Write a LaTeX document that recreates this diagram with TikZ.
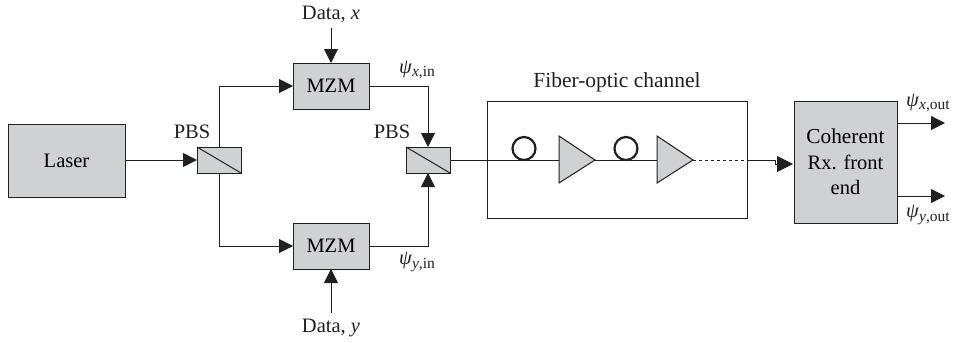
\documentclass[tikz,border=0pt]{standalone}
\usepackage{fontspec}
\setmainfont{Liberation Serif}
\usetikzlibrary{arrows.meta,calc}
\definecolor{boxgray}{HTML}{D0D1D3}
\definecolor{ink}{HTML}{231F20}
\newcommand{\psisub}[2]{\textit{ψ}\raisebox{-3.5pt}{\fontsize{15.5}{15.5}\selectfont\textit{#1},#2}}
\tikzset{
  graybox/.style={draw=ink,line width=1pt,fill=boxgray,inner sep=0pt,outer sep=0pt,align=center},
  lbl/.style={inner sep=0pt,outer sep=0pt,text=ink,align=center},
  conn/.style={draw=ink,line width=1pt,-{Triangle[length=14pt,width=14pt]}},
  bigconn/.style={draw=ink,line width=1pt,-{Triangle[length=16pt,width=16pt]}},
  plainconn/.style={draw=ink,line width=1pt},
  amp/.style={draw=ink,line width=1pt,fill=boxgray},
  coil/.style={draw=ink,line width=2.2pt,circle,minimum size=23pt,inner sep=0pt,outer sep=0pt},
}
\begin{document}
\begin{tikzpicture}[x=1pt,y=-1pt,every node/.append style={font=\fontsize{20.5}{24}\selectfont\frenchspacing}]
\useasboundingbox (0,0) rectangle (954,343);
% boxes
\node[graybox,minimum width=117pt,minimum height=73pt] (laser) at (66.5,160.5) {Laser};
\node[graybox,minimum width=44pt,minimum height=26pt] (pbsa) at (219,160) {};
\node[graybox,minimum width=44pt,minimum height=26pt] (pbsb) at (428,160) {};
\draw[plainconn] (pbsa.north west) -- (pbsa.south east);
\draw[plainconn] (pbsb.north west) -- (pbsb.south east);
\node[graybox,minimum width=76pt,minimum height=46pt] (mzma) at (331,86) {MZM};
\node[graybox,minimum width=76pt,minimum height=46pt] (mzmb) at (331,246) {MZM};
\node[draw=ink,line width=1pt,fill=white,minimum width=260pt,minimum height=117pt,inner sep=0pt,outer sep=0pt] (chan) at (617,159.5) {};
\node[graybox,minimum width=103pt,minimum height=122pt,text width=103pt,execute at begin node={\setlength{\baselineskip}{25.5pt}}] (rx) at (845.5,162) {{\fontsize{21.3}{24}\selectfont Coherent}\hspace*{3pt}\\Rx. front\hspace*{3pt}\\end};
% labels
\node[lbl] (datax) at (331,14) {Data, \textit{x}};
\node[lbl] (datay) at (331,328) {Data, \textit{y}};
\node[lbl] (pbsla) at (192,132) {PBS};
\node[lbl] (pbslb) at (392,132) {PBS};
\node[lbl,font=\fontsize{21.5}{24}\selectfont] (chanl) at (617,82) {Fiber-optic channel};
\node[lbl] (psixin) at (417,70) {\psisub{x}{in}};
\node[lbl] (psiyin) at (417,262) {\psisub{y}{in}};
\node[lbl] (psixout) at (928,103) {\psisub{x}{out}};
\node[lbl] (psiyout) at (928,215) {\psisub{y}{out}};
% free ends
\coordinate (dxs) at (331,28);
\coordinate (dys) at (331,313);
\coordinate (xouta) at (945,123);
\coordinate (xoutb) at (945,196);
\coordinate (jog) at (775,160);
\coordinate (jogb) at (775,164);
\coordinate (rxin) at (793,164);
\coordinate (ampaout) at (595,160);
\coordinate (ampain) at (559,160);
\coordinate (ampbin) at (657,160);
\coordinate (ampbout) at (693,160);
% connectors
\draw[conn] (laser.east |- pbsa.west) -- (pbsa.west);
\draw[conn] (pbsa.north) |- (mzma.west);
\draw[conn] (pbsa.south) |- (mzmb.west);
\draw[conn] (dxs) -- (mzma.north);
\draw[conn] (dys) -- (mzmb.south);
\draw[conn] (mzma.east) -| (pbsb.north);
\draw[conn] (mzmb.east) -| (pbsb.south);
% fibre line
\draw[plainconn] (pbsb.east) -- (ampain);
\draw[plainconn] (ampaout) -- (ampbin);
\path[amp] (559,136) -- (595,160) -- (559,183) -- cycle;
\path[amp] (657,136) -- (693,160) -- (657,183) -- cycle;
\draw[plainconn,dash pattern=on 3pt off 3pt] (ampbout) -- (chan.east |- ampbout);
\draw[plainconn] (chan.east |- jog) -- (jog) -- (jogb);
\draw[bigconn] (jogb) -- (rxin);
\node[coil] (coila) at (524,148.5) {};
\node[coil] (coilb) at (626,148.5) {};
\draw[conn] (rx.east |- xouta) -- (xouta);
\draw[conn] (rx.east |- xoutb) -- (xoutb);
\end{tikzpicture}
\end{document}
